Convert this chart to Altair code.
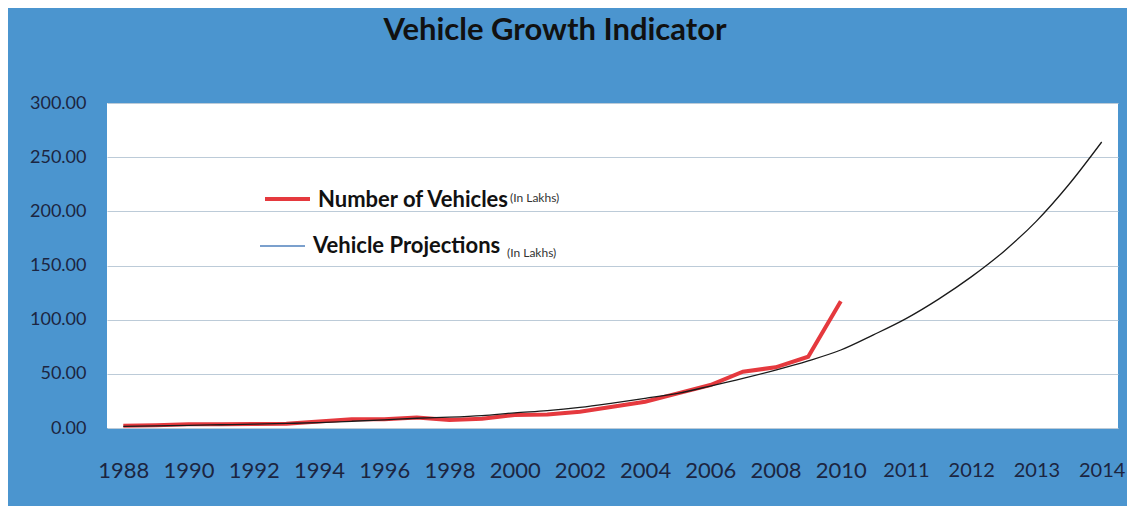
import altair as alt
import pandas as pd

# Category slots on the x axis (Excel category axis, one label every two slots)
tick_labels = ["1988", "1990", "1992", "1994", "1996", "1998", "2000", "2002",
               "2004", "2006", "2008", "2010", "2011", "2012", "2013", "2014"]

# Number of Vehicles (In Lakhs), one value per year 1988..2010 (slots 0..22)
vehicle_years = list(range(1988, 2011))
vehicles = [2.0, 2.5, 3.4, 3.5, 3.7, 4.0, 6.0, 8.0, 8.0, 9.8, 7.4, 8.6,
            12.0, 12.5, 15.0, 19.7, 24.3, 32.0, 39.7, 52.0, 56.0, 65.8, 117.0]

# Vehicle Projections (In Lakhs), slots 0..30
projections = [1.5, 2.0, 2.5, 3.0, 3.5, 4.2, 5.0, 6.2, 7.5, 9.0, 10.0, 11.5,
               14.0, 16.0, 19.0, 23.0, 27.4, 32.0, 38.7, 45.8, 53.5, 62.0,
               72.0, 86.0, 101.0, 119.0, 139.5, 163.0, 191.0, 225.0, 264.0]

veh_df = pd.DataFrame({"slot": [y - 1988 for y in vehicle_years], "value": vehicles})
proj_df = pd.DataFrame({"slot": list(range(len(projections))), "value": projections})

FONT = "Lato"
TXT = "#1c2541"
label_js = "[" + ",".join("'%s'" % t for t in tick_labels) + "]"

x_enc = alt.X(
    "slot:Q",
    scale=alt.Scale(domain=[-0.5, 30.5], nice=False, zero=False),
    axis=alt.Axis(
        values=list(range(0, 31, 2)),
        labelExpr=label_js + "[round(datum.value / 2)]",
        title=None, grid=False, ticks=False, domain=False,
        labelFont=FONT, labelColor=TXT,
        labelFontSize={"condition": {"test": "datum.value > 22", "value": 20}, "value": 22},
        labelPadding=42, labelBaseline="middle", labelFlush=False,
    ),
)
y_enc = alt.Y(
    "value:Q",
    scale=alt.Scale(domain=[0, 300], nice=False),
    axis=alt.Axis(
        values=[0, 50, 100, 150, 200, 250, 300], format=".2f", title=None,
        ticks=False, domain=False, gridColor="#bccbd8", gridWidth=1.2,
        labelFont=FONT, labelColor=TXT, labelFontSize=18, labelPadding=21,
    ),
)

red = alt.Chart(veh_df).mark_line(color="#e5393e", strokeWidth=4).encode(x=x_enc, y=y_enc)
black = alt.Chart(proj_df).mark_line(color="#1a1a1a", strokeWidth=1.3, interpolate="monotone").encode(x=x_enc, y=y_enc)

one = pd.DataFrame({"k": [0]})


def rule(x1, x2, yv, color, w):
    return alt.Chart(one).mark_rule(color=color, strokeWidth=w).encode(
        x=alt.value(x1), x2=alt.value(x2), y=alt.value(yv))


def text(t, xv, yv, size, weight="normal", align="left", baseline="alphabetic", color="#111111"):
    return alt.Chart(one).mark_text(
        text=t, font=FONT, fontSize=size, fontWeight=weight, align=align,
        baseline=baseline, color=color,
    ).encode(x=alt.value(xv), y=alt.value(yv))


legend = [
    rule(158, 203, 96, "#e5393e", 4),
    text("Number of Vehicles", 211, 104, 22, "bold"),
    text("(In Lakhs)", 403, 95, 12, baseline="middle", color="#333333"),
    rule(153, 198, 143, "#4f81bd", 1.5),
    text("Vehicle Projections", 206, 150, 22, "bold"),
    text("(In Lakhs)", 400, 150, 12, baseline="middle", color="#333333"),
    text("Vehicle Growth  Indicator", 448, -63, 31, "bold", align="center"),
]

chart = alt.layer(red, black, *legend).properties(
    width=1011, height=325,
    autosize=alt.AutoSizeParams(type="none"),
    padding={"left": 99, "top": 95, "right": 9, "bottom": 78},
    background="#4b95cf",
).configure_view(fill="white", stroke=None)

chart.save("out.html", embed_options={"renderer": "svg", "actions": False})
